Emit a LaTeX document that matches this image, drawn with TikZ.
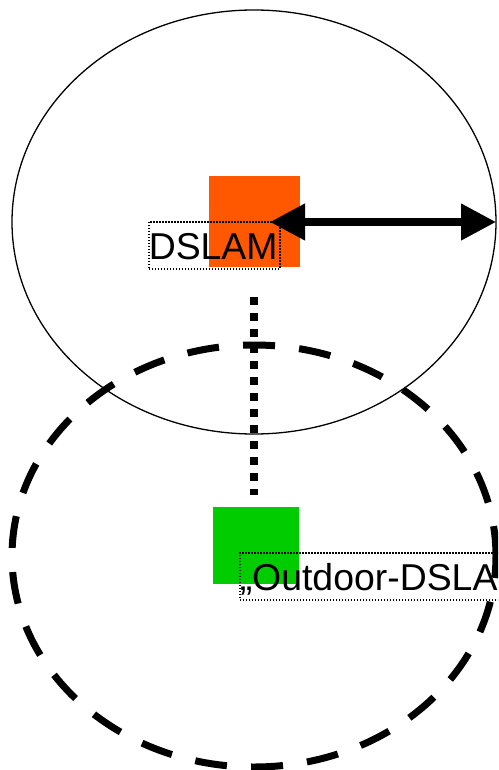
\documentclass[tikz,border=0pt]{standalone}
\usepackage{fontspec}
\setmainfont{Liberation Sans}
\usetikzlibrary{arrows.meta}
\definecolor{dslamorange}{RGB}{255,88,0}
\definecolor{outdoorgreen}{RGB}{0,204,0}
\tikzset{
  cell/.style={draw=none,inner sep=0pt,anchor=north west},
  labelbox/.style={draw=black,line width=1.5pt,dash pattern=on 1.5pt off 1.5pt,inner sep=0pt,anchor=north west,
    text height=38pt,text depth=9pt,align=left,font=\fontsize{37.4}{40}\selectfont},
  reach/.style={line width=7.5pt,{Triangle[length=35pt,width=35pt]}-{Triangle[length=35pt,width=35pt]}},
  uplink/.style={line width=7.5pt,dash pattern=on 8pt off 8pt},
  area/.style={draw=black,line width=1.3pt},
  outdoorarea/.style={draw=black,line width=7pt,dash pattern=on 32pt off 24.2pt,dash phase=10pt}
}
\begin{document}
\begin{tikzpicture}[x=1pt,y=-1pt]
\path[use as bounding box] (0,0) rectangle (498,770);
\clip (0,0) rectangle (498,770);
\fill[white] (0,0) rectangle (498,770);
\draw[area] (254,222) ellipse [x radius=242,y radius=212];
\node[cell,fill=dslamorange,minimum width=91pt,minimum height=91pt] (dslam) at (209,176) {};
\node[cell,fill=outdoorgreen,minimum width=86pt,minimum height=77pt] (outdoor) at (213,507) {};
\node[labelbox,text width=131pt] (dslamlabel) at (148,221) {DSLAM};
\node[labelbox,text width=310pt] (outdoorlabel) at (239,552) {„Outdoor-DSLAM“};
\draw[outdoorarea] (254,556) ellipse [x radius=242,y radius=211];
\coordinate (edge) at (496,222);
\coordinate (reachstart) at (270,222);
\draw[reach] (reachstart) -- (edge);
\coordinate (upa) at (254,297);
\coordinate (upb) at (254,495);
\draw[uplink] (upa) -- (upb);
\end{tikzpicture}
\end{document}
